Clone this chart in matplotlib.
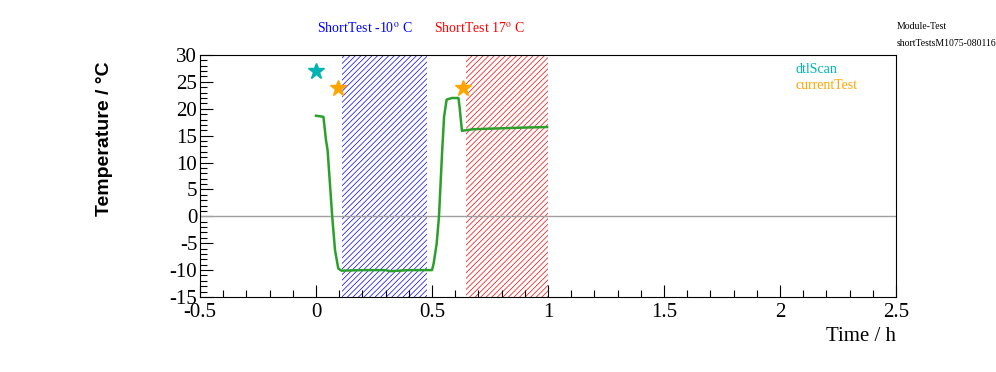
import matplotlib
matplotlib.use("Agg")
import matplotlib.pyplot as plt
from matplotlib.ticker import MultipleLocator, FuncFormatter

# temperature trace
time_h = [0.0, 0.032, 0.043, 0.05, 0.06, 0.07, 0.082, 0.096, 0.11, 0.2, 0.3, 0.32,
          0.4, 0.5, 0.507, 0.52, 0.53, 0.537, 0.544, 0.552, 0.563, 0.585, 0.614,
          0.619, 0.629, 0.679, 0.75, 0.895, 0.996]
temp_c = [18.7, 18.5, 14.2, 12.3, 6.1, -0.1, -6.3, -9.7, -10.1, -10.0, -10.0, -10.2,
          -10.0, -10.0, -8.8, -5.1, -0.1, 6.1, 12.3, 18.5, 21.7, 22.0, 22.0,
          20.3, 15.9, 16.2, 16.3, 16.5, 16.6]

# markers for test starts
dtl_t, dtl_v = [0.0], [27.0]
cur_t, cur_v = [0.094, 0.632], [23.8]*2

# shaded test windows
cold_win = (0.114, 0.478)
warm_win = (0.647, 1.0)

plt.rcParams['hatch.linewidth'] = 0.5
plt.rcParams['mathtext.fontset'] = 'stix'
serif = 'Liberation Serif'

fig = plt.figure(figsize=(9.96, 3.72), dpi=100)
ax = fig.add_axes([0.2008, 0.2016, 0.6988, 0.6506])

ax.axvspan(*cold_win, facecolor='none', edgecolor='blue', hatch='//////', linewidth=0, zorder=1)
ax.axvspan(*warm_win, facecolor='none', edgecolor='red', hatch='//////', linewidth=0, zorder=1)
ax.axhline(0, color='#a0a0a0', lw=1, zorder=2)
ax.plot(time_h, temp_c, color='#2ca02c', lw=1.8, zorder=3)
ax.plot(dtl_t, dtl_v, '*', color='#00b4b4', ms=12, zorder=4)
ax.plot(cur_t, cur_v, '*', color='orange', ms=12, zorder=4)

ax.set_xlim(-0.5, 2.5)
ax.set_ylim(-15, 30)
ax.xaxis.set_major_locator(MultipleLocator(0.5))
ax.xaxis.set_minor_locator(MultipleLocator(0.1))
ax.yaxis.set_major_locator(MultipleLocator(5))
ax.yaxis.set_minor_locator(MultipleLocator(1))
fmt = FuncFormatter(lambda v, p: '%g' % round(v, 3))
ax.xaxis.set_major_formatter(fmt)
ax.yaxis.set_major_formatter(fmt)
ax.tick_params(which='both', direction='in', top=False, right=False, width=0.8)
ax.tick_params(which='major', length=9, labelsize=15, pad=2)
ax.tick_params(axis='x', which='major', pad=4)
ax.tick_params(which='minor', length=5)
for lab in ax.get_xticklabels() + ax.get_yticklabels():
    lab.set_family(serif)

fig.text(0.8996, 0.096, 'Time / h', ha='right', va='center', family=serif, fontsize=15)
fig.text(0.105, 0.628, 'Temperature / °C', rotation=90, ha='center', va='center',
         family='Liberation Sans', fontweight='bold', fontsize=14)

fig.text(0.318, 0.925, 'ShortTest -10$^{\\mathrm{o}}$ C', color='blue', family=serif, fontsize=10, va='center')
fig.text(0.436, 0.925, 'ShortTest 17$^{\\mathrm{o}}$ C', color='red', family=serif, fontsize=10, va='center')
fig.text(0.9, 0.928, 'Module-Test', family=serif, fontsize=7, va='center')
fig.text(0.9, 0.884, 'shortTestsM1075-080116', family=serif, fontsize=7, va='center')
fig.text(0.799, 0.812, 'dtlScan', color='#00b4b4', family=serif, fontsize=10, va='center')
fig.text(0.799, 0.771, 'currentTest', color='orange', family=serif, fontsize=10, va='center')

fig.savefig('out.png', dpi=100)
